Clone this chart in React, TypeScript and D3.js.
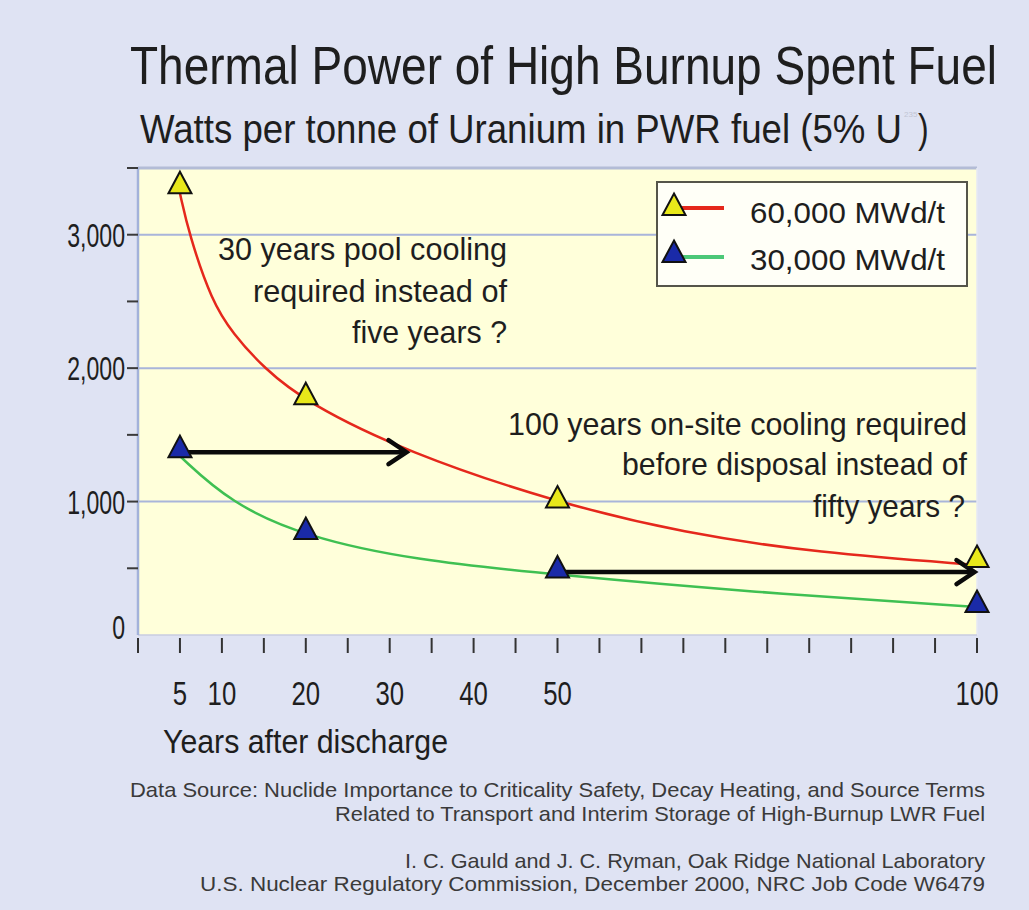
import React from "react";
import * as d3 from "d3";

// ---- data ----
const markerYears = [5, 20, 50, 100];
const burnup60 = [3386, 1805, 1030, 584];
const burnup30 = [1408, 794, 506, 247];

const curveYears60 = [5, 6.1, 8.8, 11.3, 15, 20, 32, 50, 65, 81, 100];
const curveValues60 = [3310, 3000, 2500, 2260, 2000, 1745, 1370, 990, 765, 615, 525];
const curveYears30 = [5, 11, 20, 33, 50, 73, 100];
const curveValues30 = [1340, 990, 735, 560, 450, 322, 210];

const arrowFrom = [5, 50];
const arrowTo = [32, 99.7];
const arrowLevel = [1370, 472];

const yLabelValues = [0, 1000, 2000, 3000];
const yLabels = ["0", "1,000", "2,000", "3,000"];
const yMinorValues = [500, 1500, 2500, 3500];
const xTickValues = d3.range(0, 101, 5);
const xLabelValues = [5, 10, 20, 30, 40, 50, 100];

const seriesNames = ["60,000 MWd/t", "30,000 MWd/t"];

const FONT = "'Liberation Sans', Arial, Helvetica, sans-serif";
const TXT = "#1e1e1e";

function tri(cx: number, cy: number) {
  return `M${cx},${cy - 11.5} L${cx + 11.5},${cy + 10} L${cx - 11.5},${cy + 10} Z`;
}

function FitText(props: { x: number; y: number; w: number; size: number; sx?: number; fill?: string; children: string }) {
  const sx = props.sx ?? 0.85;
  return (
    <g transform={`translate(${props.x},${props.y}) scale(${sx},1)`}>
      <text
        x={0}
        y={0}
        textLength={props.w / sx}
        lengthAdjust="spacingAndGlyphs"
        fontSize={props.size}
        fontFamily={FONT}
        fill={props.fill || TXT}
      >
        {props.children}
      </text>
    </g>
  );
}

function NarrowText(props: { x: number; y: number; size: number; anchor?: string; sx?: number; fill?: string; children: string }) {
  const sx = props.sx ?? 0.8;
  return (
    <g transform={`translate(${props.x},${props.y}) scale(${sx},1)`}>
      <text textAnchor={props.anchor || "start"} fontSize={props.size} fontFamily={FONT} fill={props.fill || TXT}>
        {props.children}
      </text>
    </g>
  );
}

export default function App() {
  const W = 1029;
  const H = 910;
  const x = d3.scaleLinear().domain([0, 100]).range([138, 977]);
  const y = d3.scaleLinear().domain([0, 3500]).range([635, 168]);

  const line = d3
    .line<[number, number]>()
    .x((d) => x(d[0]))
    .y((d) => y(d[1]))
    .curve(d3.curveBasis);

  const path60 = line(curveYears60.map((t, i) => [t, curveValues60[i]]) as [number, number][]) || "";
  const path30 = line(curveYears30.map((t, i) => [t, curveValues30[i]]) as [number, number][]) || "";

  const red = "#e5281c";
  const green = "#3fc052";

  return (
    <svg width={W} height={H} style={{ position: "absolute", left: 0, top: 0, display: "block" }}>
      <rect x={0} y={0} width={W} height={H} fill="#dfe3f3" />

      {/* Title */}
      <FitText x={130} y={84} w={867} size={54} sx={0.8}>Thermal Power of High Burnup Spent Fuel</FitText>
      <FitText x={140} y={143} w={762} size={40} sx={0.82}>Watts per tonne of Uranium in PWR fuel (5% U</FitText>
      <text x={904} y={117} fontSize={8} fontFamily={FONT} fill="#c2c5d3">235</text>
      <NarrowText x={918} y={143} size={40} sx={0.8}>)</NarrowText>

      {/* Plot area */}
      <rect x={x(0)} y={y(3500)} width={x(100) - x(0)} height={y(0) - y(3500)} fill="#ffffda" />
      {yLabelValues.filter((v) => v > 0).map((v) => (
        <line key={v} x1={x(0)} x2={x(100)} y1={y(v)} y2={y(v)} stroke="#a9b5da" strokeWidth={2} />
      ))}
      <line x1={x(0)} x2={x(100)} y1={y(3500)} y2={y(3500)} stroke="#b3bcd6" strokeWidth={3} />
      <line x1={x(100)} x2={x(100)} y1={y(3500)} y2={y(0)} stroke="#e6e9f4" strokeWidth={1.5} />
      <line x1={x(0)} x2={x(100)} y1={y(0)} y2={y(0)} stroke="#c9cde0" strokeWidth={1.5} />
      <line x1={x(0)} x2={x(0)} y1={y(3500) - 1} y2={y(0)} stroke="#a3b2da" strokeWidth={2.5} />

      {/* Y axis ticks & labels */}
      {yLabelValues.concat(yMinorValues).filter((v) => v > 0).map((v) => (
        <line key={"yt" + v} x1={127} x2={x(0)} y1={y(v)} y2={y(v)} stroke="#3a3a3a" strokeWidth={2} />
      ))}
      {yLabelValues.map((v, i) => (
        <NarrowText key={"yl" + v} x={125} y={Math.min(y(v), 627) + 12} size={33} anchor="end" sx={0.7}>
          {yLabels[i]}
        </NarrowText>
      ))}

      {/* X axis ticks & labels */}
      {xTickValues.map((v) => (
        <line key={"xt" + v} x1={x(v)} x2={x(v)} y1={638} y2={653} stroke="#333" strokeWidth={2} />
      ))}
      {xLabelValues.map((v) => (
        <NarrowText key={"xl" + v} x={x(v)} y={705} size={33} anchor="middle" sx={0.78}>
          {String(v)}
        </NarrowText>
      ))}
      <FitText x={163} y={753} w={285} size={34} sx={0.8}>Years after discharge</FitText>

      {/* Curves */}
      <path d={path60} fill="none" stroke={red} strokeWidth={2.5} />
      <path d={path30} fill="none" stroke={green} strokeWidth={2.5} />

      {/* Arrows */}
      {arrowFrom.map((f, i) => {
        const x1 = x(f);
        const x2 = x(arrowTo[i]);
        const yy = y(arrowLevel[i]);
        return (
          <g key={"ar" + i} stroke="#0a0a0a" strokeWidth={4.5} strokeLinecap="round" fill="none">
            <line x1={x1} x2={x2 - 2} y1={yy} y2={yy} />
            <polyline points={`${x2 - 18},${yy - 12} ${x2},${yy} ${x2 - 18},${yy + 12}`} strokeLinejoin="miter" />
          </g>
        );
      })}

      {/* Markers */}
      {markerYears.map((t, i) => (
        <path key={"m60" + i} d={tri(x(t), y(burnup60[i]))} fill="#e8e81a" stroke="#111" strokeWidth={2} strokeLinejoin="miter" />
      ))}
      {markerYears.map((t, i) => (
        <path key={"m30" + i} d={tri(x(t), y(burnup30[i]))} fill="#1a2aa8" stroke="#111" strokeWidth={2} strokeLinejoin="miter" />
      ))}

      {/* Annotations */}
      <FitText x={218} y={260} w={289} size={32}>30 years pool cooling</FitText>
      <FitText x={253} y={302} w={254} size={32}>required instead of</FitText>
      <FitText x={352} y={343} w={155} size={32}>five years ?</FitText>

      <FitText x={508} y={435} w={459} size={32}>100 years on-site cooling required</FitText>
      <FitText x={622} y={475} w={345} size={32}>before disposal instead of</FitText>
      <FitText x={813} y={517} w={152} size={32}>fifty years ?</FitText>

      {/* Legend */}
      <rect x={657} y={182} width={310} height={104} fill="#fffff7" stroke="#55554a" strokeWidth={2} />
      <line x1={680} x2={724} y1={208} y2={208} stroke={red} strokeWidth={4} />
      <path d={tri(674, 205)} fill="#e8e81a" stroke="#111" strokeWidth={2} />
      <FitText x={750} y={223} w={195} size={29}>{seriesNames[0]}</FitText>
      <line x1={680} x2={724} y1={257} y2={257} stroke="#4cc878" strokeWidth={4} />
      <path d={tri(674, 252)} fill="#1a2aa8" stroke="#111" strokeWidth={2} />
      <FitText x={750} y={270} w={195} size={29}>{seriesNames[1]}</FitText>

      {/* Footer */}
      <FitText x={130} y={797} w={855} size={21} fill="#3a3a3a">Data Source: Nuclide Importance to Criticality Safety, Decay Heating, and Source Terms</FitText>
      <FitText x={335} y={821} w={650} size={21} fill="#3a3a3a">Related to Transport and Interim Storage of High-Burnup LWR Fuel</FitText>
      <FitText x={405} y={868} w={580} size={21} fill="#3a3a3a">I. C. Gauld and J. C. Ryman, Oak Ridge National Laboratory</FitText>
      <FitText x={200} y={891} w={785} size={21} fill="#3a3a3a">U.S. Nuclear Regulatory Commission, December 2000,  NRC Job Code W6479</FitText>
    </svg>
  );
}
